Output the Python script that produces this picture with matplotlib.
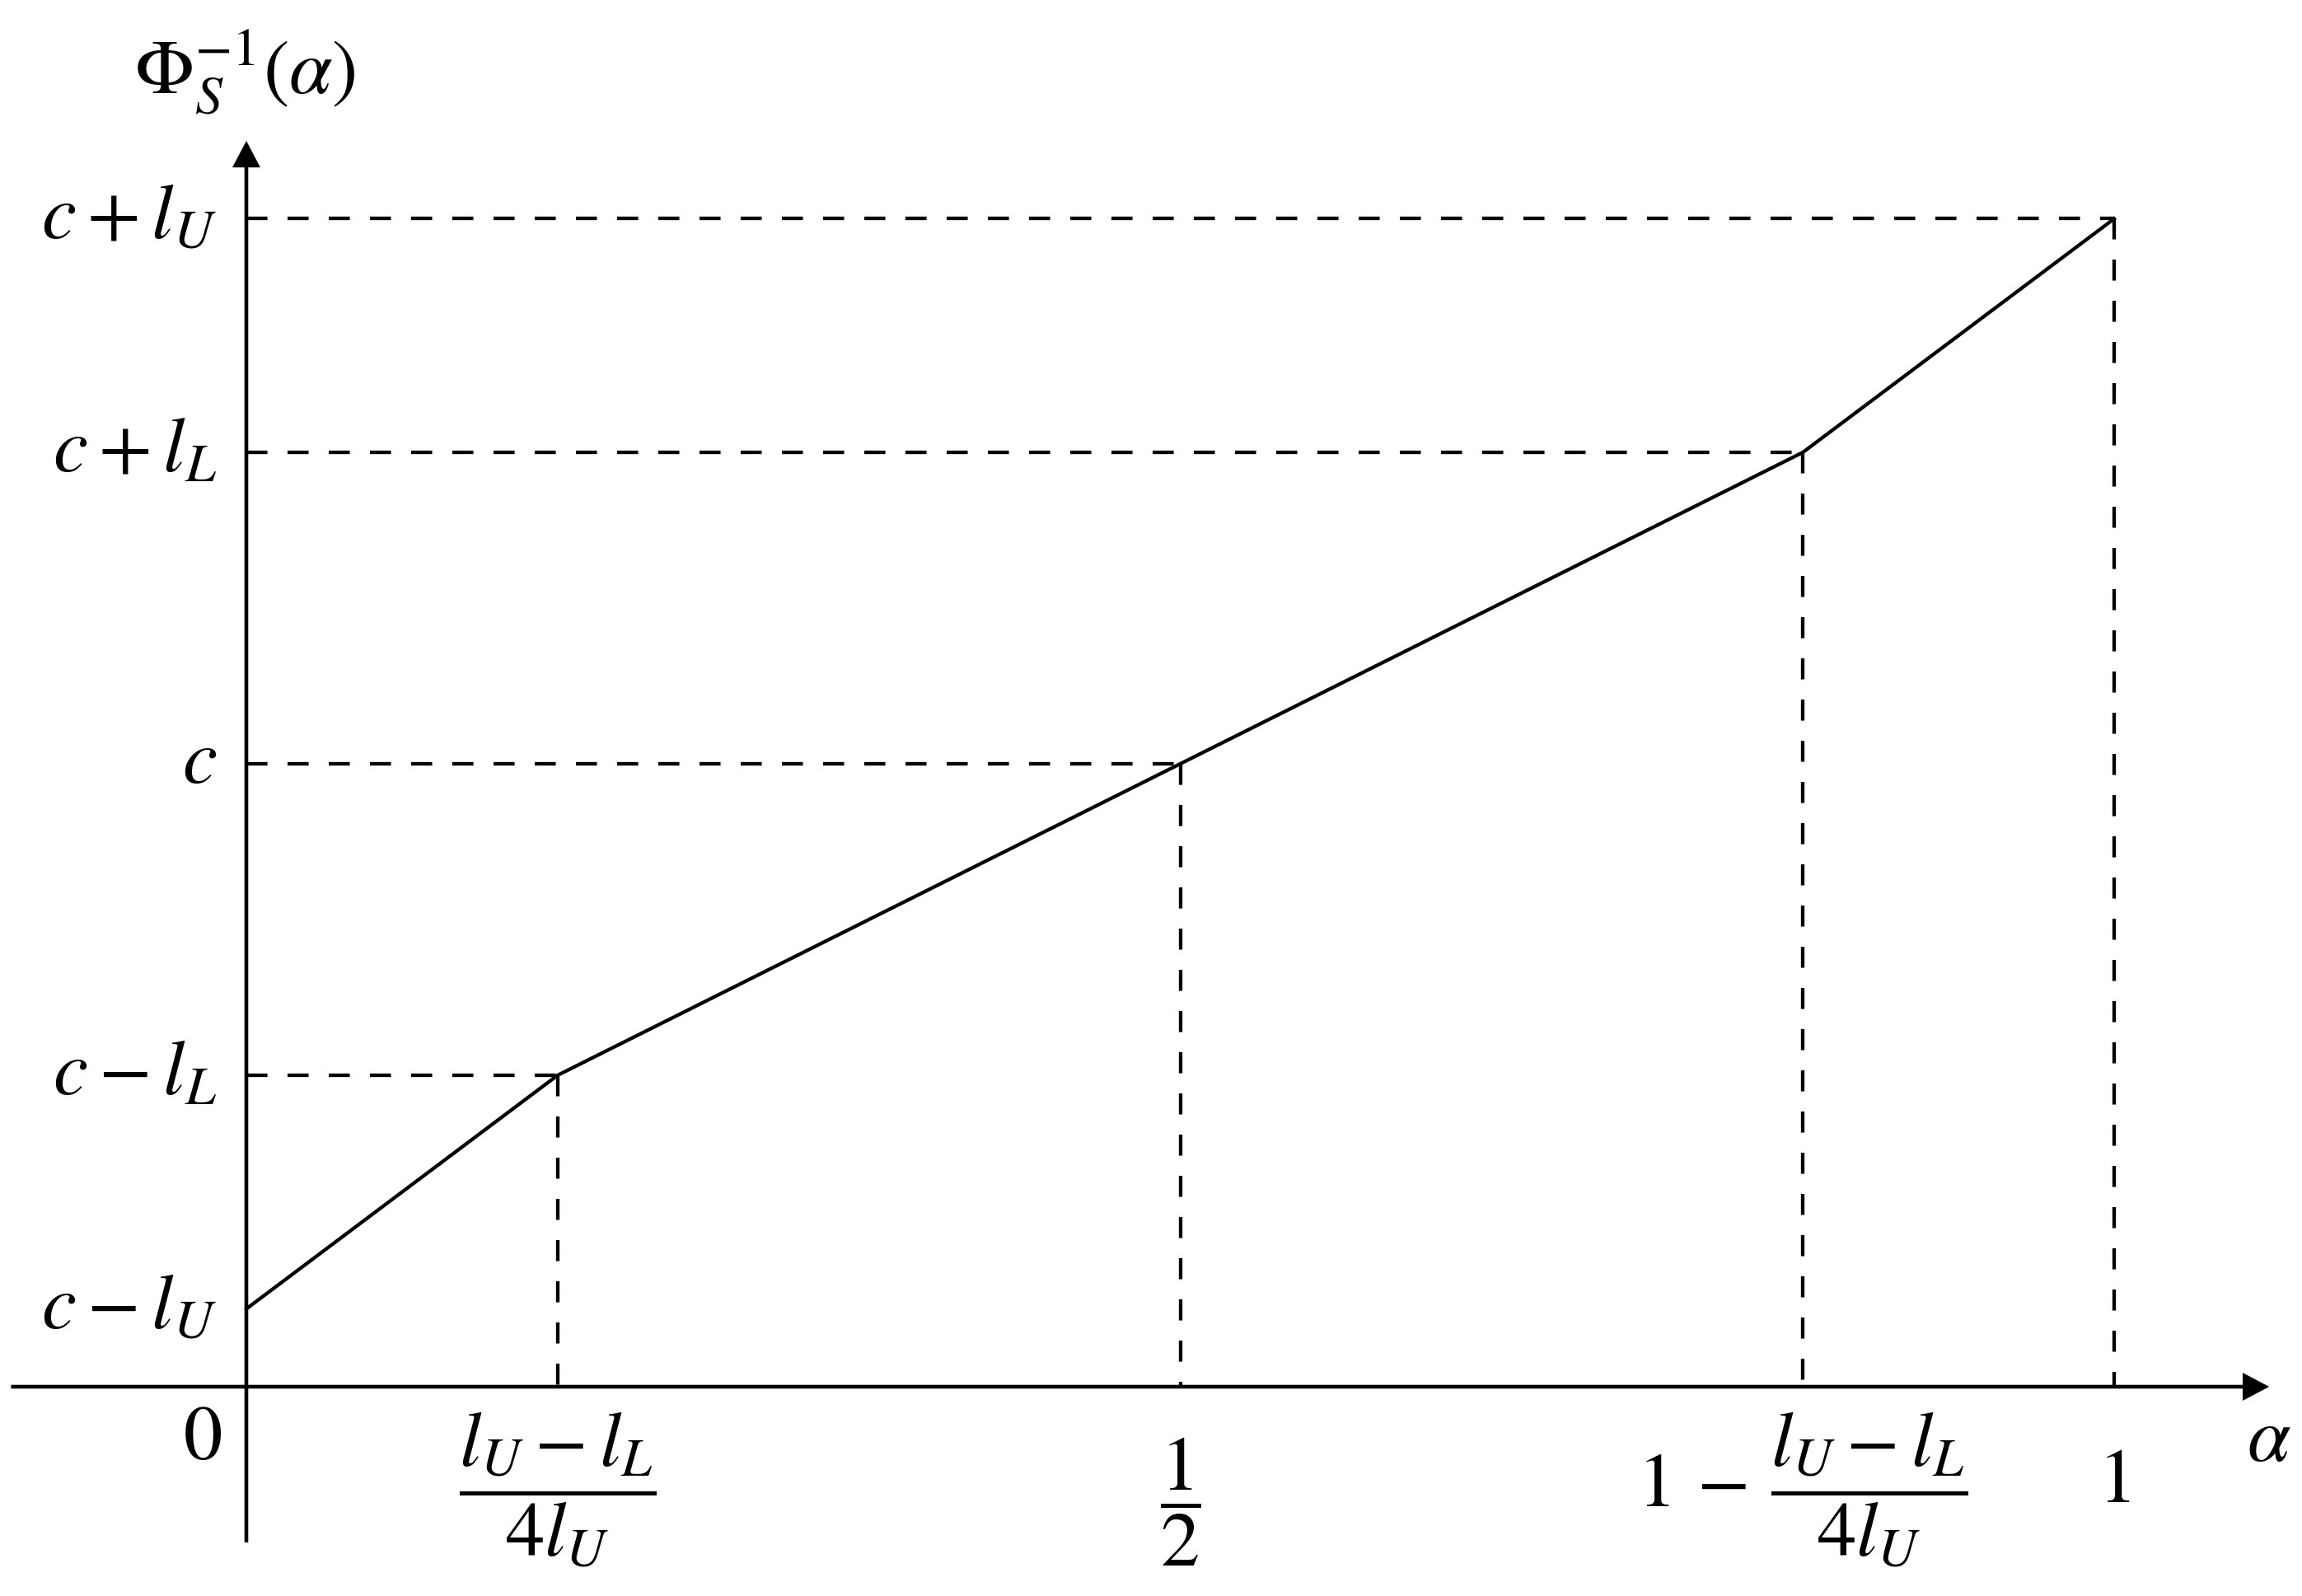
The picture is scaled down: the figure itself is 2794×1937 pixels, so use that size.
import matplotlib
matplotlib.use("Agg")
import matplotlib.pyplot as plt
from matplotlib.patches import FancyArrowPatch

# ---- data (schematic quantile function) ----
alpha = [0.0, 1/6, 1/2, 5/6, 1.0]
phi_inv = [0.25, 1.0, 2.0, 3.0, 3.75]
y_labels = [r'$c-l_U$', r'$c-l_L$', r'$c$', r'$c+l_L$', r'$c+l_U$']
x_labels = [r'$0$', r'$\dfrac{l_U-l_L}{4l_U}$', r'$\dfrac{1}{2}$',
            r'$1\,-\,\dfrac{l_U-l_L}{4l_U}$', r'$1$']
x_axis_label = r'$\alpha$'
y_axis_label = r'$\Phi_S^{-1}(\alpha)$'

plt.rcParams['mathtext.fontset'] = 'stix'
plt.rcParams['font.family'] = ['STIXGeneral', 'DejaVu Serif']
plt.rcParams['lines.scale_dashes'] = False

W, H, DPI = 2794, 1937, 100
fig = plt.figure(figsize=(W / DPI, H / DPI), dpi=DPI)
ax = fig.add_axes([0, 0, 1, 1])
ax.set_axis_off()

# pixel mapping: origin at (299, 1683) px, x unit 2267 px, y unit 378 px
x0, y0, sx, sy = 299.0, 1683.0, 2267.0, 378.0
ax.set_xlim(-x0 / sx, (W - x0) / sx)
ax.set_ylim((y0 - H) / sy, y0 / sy)

FS = 68
LW_AX = 3.3
LW = 3.1
DASH = (0, (18.4, 17.6))

# axes with arrows
x_min, x_max = -0.126, 1.083
y_min, y_max = -0.5, 4.0
arrow_kw = dict(arrowstyle='-|>,head_length=18,head_width=9.5',
                mutation_scale=1, lw=LW_AX, color='black',
                shrinkA=0, shrinkB=0, joinstyle='miter', capstyle='butt')
ax.add_patch(FancyArrowPatch((x_min, 0), (x_max, 0), **arrow_kw))
ax.add_patch(FancyArrowPatch((0, y_min), (0, y_max), **arrow_kw))

# dashed guide lines
for a, p in zip(alpha[1:], phi_inv[1:]):
    ax.plot([0, a], [p, p], color='black', lw=LW, linestyle=DASH,
            solid_capstyle='butt', dash_capstyle='butt')
    ax.plot([a, a], [p, 0], color='black', lw=LW, linestyle=DASH,
            solid_capstyle='butt', dash_capstyle='butt')

# main curve
ax.plot(alpha, phi_inv, color='black', lw=LW, solid_joinstyle='miter')

# y labels
for p, lab in zip(phi_inv, y_labels):
    ax.annotate(lab, xy=(0, p), xytext=(-36, -23), textcoords='offset pixels',
                ha='right', va='baseline', fontsize=FS)

# x labels (baseline-aligned)
x_offsets = [(-30, -88, 'right'), (0, -145, 'center'),
             (0, -161, 'center'), (0, -145, 'center'),
             (0, -140, 'center')]
for a, lab, (dx, dy, ha) in zip(alpha, x_labels, x_offsets):
    ax.annotate(lab, xy=(a, 0), xytext=(dx, dy), textcoords='offset pixels',
                ha=ha, va='baseline', fontsize=FS)

ax.annotate(x_axis_label, xy=(x_max, 0), xytext=(0, -90), textcoords='offset pixels',
            ha='center', va='baseline', fontsize=FS)
ax.annotate(y_axis_label, xy=(0, y_max), xytext=(-2, 58), textcoords='offset pixels',
            ha='center', va='baseline', fontsize=FS)

fig.savefig('out.png', dpi=DPI, facecolor='white')
